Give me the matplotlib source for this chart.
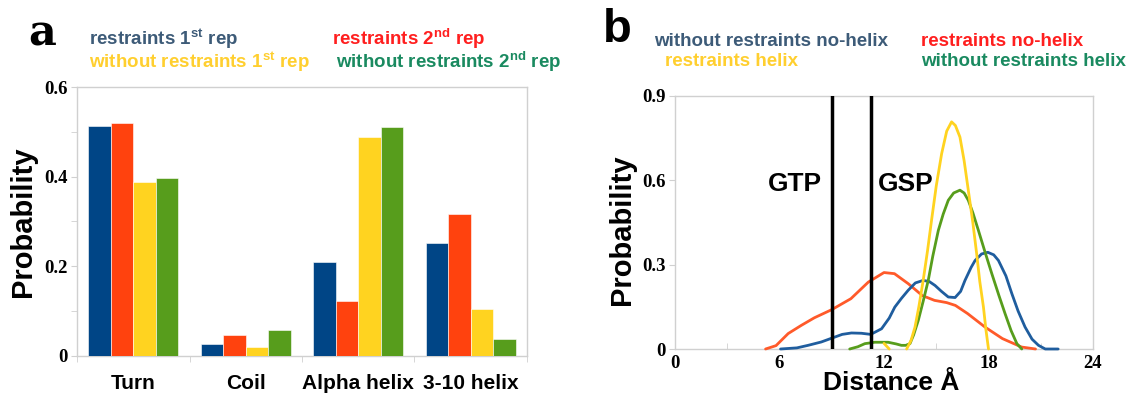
import numpy as np
import matplotlib
matplotlib.use("Agg")
import matplotlib.pyplot as plt
from matplotlib.ticker import FixedLocator, MultipleLocator

plt.rcParams['mathtext.fontset'] = 'custom'
plt.rcParams['mathtext.bf'] = 'Liberation Sans:bold'
plt.rcParams['mathtext.rm'] = 'Liberation Sans:bold'

# ---------------- data: panel a ----------------
categories = ["Turn", "Coil", "Alpha helix", "3-10 helix"]
restraints_1st = [0.514, 0.027, 0.210, 0.253]
restraints_2nd = [0.519, 0.047, 0.123, 0.316]
without_1st = [0.389, 0.021, 0.488, 0.105]
without_2nd = [0.398, 0.057, 0.511, 0.037]

# ---------------- data: panel b ----------------
red_x = [5.2, 5.8, 6.5, 7.25, 8.0, 9.0, 10.1, 11.1, 12.0, 12.6, 13.4, 14.2, 14.9, 15.6,
         16.1, 16.8, 17.8, 18.8, 19.9, 20.7]
red_y = [0.0, 0.012, 0.055, 0.084, 0.111, 0.14, 0.179, 0.238, 0.272, 0.268, 0.232, 0.19,
         0.173, 0.165, 0.155, 0.126, 0.078, 0.037, 0.007, 0.0]

blue_x = [6.06, 7.0, 7.64, 8.4, 9.02, 9.6, 10.13, 10.7, 11.24, 11.86, 12.3, 12.62, 13.0,
          13.39, 13.8, 14.25, 14.6, 14.93, 15.3, 15.69, 16.08, 16.4, 16.65, 17.0, 17.23,
          17.6, 17.96, 18.3, 18.57, 19.0, 19.34, 19.7, 20.1, 20.5, 20.87, 21.26, 22.0]
blue_y = [0.0, 0.004, 0.013, 0.025, 0.039, 0.052, 0.057, 0.056, 0.052, 0.072, 0.11, 0.149,
          0.18, 0.209, 0.235, 0.244, 0.24, 0.226, 0.205, 0.185, 0.183, 0.205, 0.244, 0.29,
          0.315, 0.338, 0.344, 0.335, 0.315, 0.26, 0.197, 0.135, 0.078, 0.035, 0.013, 0.0, 0.0]

yellow_x = [12.0, 12.3, np.nan, 13.3, 13.55, 13.78, 14.0, 14.25, 14.5, 14.73, 15.0, 15.31,
            15.6, 15.88, 16.1, 16.36, 16.6, 16.84, 17.1, 17.32, 17.5, 17.71, 17.85, 18.0]
yellow_y = [0.02, 0.0, np.nan, 0.0, 0.03, 0.078, 0.15, 0.244, 0.35, 0.458, 0.58, 0.695,
            0.775, 0.808, 0.795, 0.754, 0.67, 0.565, 0.45, 0.339, 0.24, 0.149, 0.07, 0.0]

green_x = [10.03, 10.5, 10.9, 11.47, 12.24, 12.7, 13.0, 13.25, 13.49, 13.7, 13.97, 14.25,
           14.54, 14.8, 15.12, 15.4, 15.69, 16.0, 16.36, 16.6, 16.84, 17.1, 17.42, 17.8,
           18.19, 18.6, 18.95, 19.3, 19.63, 19.91]
green_y = [0.0, 0.008, 0.019, 0.024, 0.024, 0.018, 0.013, 0.013, 0.019, 0.05, 0.102, 0.17,
           0.244, 0.33, 0.422, 0.48, 0.529, 0.555, 0.565, 0.555, 0.529, 0.485, 0.422, 0.345,
           0.268, 0.19, 0.126, 0.065, 0.019, 0.0]

gtp_x = 9.02
gsp_x = 11.25

# ---------------- styling ----------------
W, H = 1129, 396
fig = plt.figure(figsize=(W / 100, H / 100), dpi=100)

BAR_COLORS = ["#004586", "#ff420e", "#ffd320", "#579d1c"]
TXT_SLATE, TXT_RED, TXT_YEL, TXT_GRN = "#3d5b78", "#ff1f1f", "#ffcf2f", "#1a8a60"
SPINE = "#d0d0d0"
SANS = "Liberation Sans"
SERIF = "Liberation Serif"


def px_axes(l, t, r, b):
    return fig.add_axes([l / W, 1 - b / H, (r - l) / W, (b - t) / H])


def style(ax):
    for s in ax.spines.values():
        s.set_color(SPINE)
        s.set_linewidth(1.0)
    for lab in ax.get_yticklabels() + ax.get_xticklabels():
        lab.set_fontfamily(SERIF)
        lab.set_fontweight("bold")
        lab.set_fontsize(13.5)


# ---------------- panel a ----------------
axa = px_axes(77, 87, 527, 356)
xpos = np.arange(len(categories))
series = [restraints_1st, restraints_2nd, without_1st, without_2nd]
for i, vals in enumerate(series):
    axa.bar(xpos - 0.3 + 0.2 * i, vals, width=0.2, color=BAR_COLORS[i],
            edgecolor="white", linewidth=0.4, zorder=3)
axa.set_xlim(-0.5, 3.5)
axa.set_ylim(0, 0.6)
axa.set_yticks([0, 0.2, 0.4, 0.6])
axa.set_yticklabels(["0", "0.2", "0.4", "0.6"])
axa.yaxis.set_minor_locator(MultipleLocator(0.1))
axa.set_xticks(xpos)
axa.set_xticklabels(categories)
axa.xaxis.set_minor_locator(FixedLocator([-0.5, 0.5, 1.5, 2.5, 3.5]))
axa.tick_params(axis="y", which="both", direction="out", length=4, color=SPINE, pad=3)
axa.tick_params(axis="x", which="major", length=0, pad=13)
axa.tick_params(axis="x", which="minor", direction="out", length=4, color=SPINE)
style(axa)
for lab in axa.get_xticklabels():
    lab.set_fontfamily(SANS)
    lab.set_fontsize(15)
axa.set_ylabel("Probability", fontfamily=SANS, fontweight="bold", fontsize=21)
axa.yaxis.set_label_coords(-0.088, 0.5)

fig.text(28 / W, 1 - 33 / H, "a", fontfamily="DejaVu Serif", fontweight="bold",
         fontsize=31, va="center", ha="left")
fig.text(89 / W, 1 - 39 / H, r"restraints 1$^{\mathbf{st}}$ rep", color=TXT_SLATE,
         fontfamily=SANS, fontweight="bold", fontsize=13.5, va="center", ha="left")
fig.text(332 / W, 1 - 39 / H, r"restraints 2$^{\mathbf{nd}}$ rep", color=TXT_RED,
         fontfamily=SANS, fontweight="bold", fontsize=13.5, va="center", ha="left")
fig.text(89 / W, 1 - 62 / H, r"without restraints 1$^{\mathbf{st}}$ rep", color=TXT_YEL,
         fontfamily=SANS, fontweight="bold", fontsize=13.5, va="center", ha="left")
fig.text(336 / W, 1 - 62 / H, r"without restraints 2$^{\mathbf{nd}}$ rep", color=TXT_GRN,
         fontfamily=SANS, fontweight="bold", fontsize=13.5, va="center", ha="left")

# ---------------- panel b ----------------
axb = px_axes(675, 96, 1093, 349)
lw = 2.0
kw = dict(lw=lw, clip_on=False, solid_joinstyle="round", solid_capstyle="round")
axb.plot(red_x, red_y, color="#ff5a2a", zorder=3, **kw)
axb.plot(blue_x, blue_y, color="#1f5d9e", zorder=3, **kw)
axb.plot(green_x, green_y, color="#579d1c", zorder=3, **kw)
axb.plot(yellow_x, yellow_y, color="#ffd320", zorder=4, **kw)
axb.axvline(gtp_x, color="black", lw=2.5, zorder=5)
axb.axvline(gsp_x, color="black", lw=2.5, zorder=5)
axb.text(8.45, 0.586, "GTP", fontfamily=SANS, fontweight="bold", fontsize=19,
         ha="right", va="center")
axb.text(11.63, 0.586, "GSP", fontfamily=SANS, fontweight="bold", fontsize=19,
         ha="left", va="center")
axb.set_xlim(0, 24)
axb.set_ylim(0, 0.9)
axb.set_xticks([0, 6, 12, 18, 24])
axb.xaxis.set_minor_locator(MultipleLocator(3))
axb.set_yticks([0, 0.3, 0.6, 0.9])
axb.set_yticklabels(["0", "0.3", "0.6", "0.9"])
axb.tick_params(axis="y", direction="out", length=4, color=SPINE, pad=3)
axb.tick_params(axis="x", which="major", direction="in", length=0, pad=4)
axb.tick_params(axis="x", which="minor", direction="in", length=4, color=SPINE)
style(axb)
axb.set_ylabel("Probability", fontfamily=SANS, fontweight="bold", fontsize=21)
axb.yaxis.set_label_coords(-0.093, 0.47)

fig.text(891 / W, 1 - 395 / H, "Distance Å", fontfamily=SANS, fontweight="bold",
         fontsize=19, ha="center", va="bottom")

fig.text(603 / W, 1 - 30 / H, "b", fontfamily=SANS, fontweight="bold",
         fontsize=34, va="center", ha="left")
fig.text(654 / W, 1 - 41 / H, "without restraints no-helix", color=TXT_SLATE,
         fontfamily=SANS, fontweight="bold", fontsize=13.5, va="center", ha="left")
fig.text(921 / W, 1 - 41 / H, "restraints no-helix", color=TXT_RED,
         fontfamily=SANS, fontweight="bold", fontsize=13.5, va="center", ha="left")
fig.text(665 / W, 1 - 62 / H, "restraints helix", color=TXT_YEL,
         fontfamily=SANS, fontweight="bold", fontsize=13.5, va="center", ha="left")
fig.text(921 / W, 1 - 62 / H, "without restraints helix", color=TXT_GRN,
         fontfamily=SANS, fontweight="bold", fontsize=13.5, va="center", ha="left")

fig.savefig("out.png", dpi=100)
